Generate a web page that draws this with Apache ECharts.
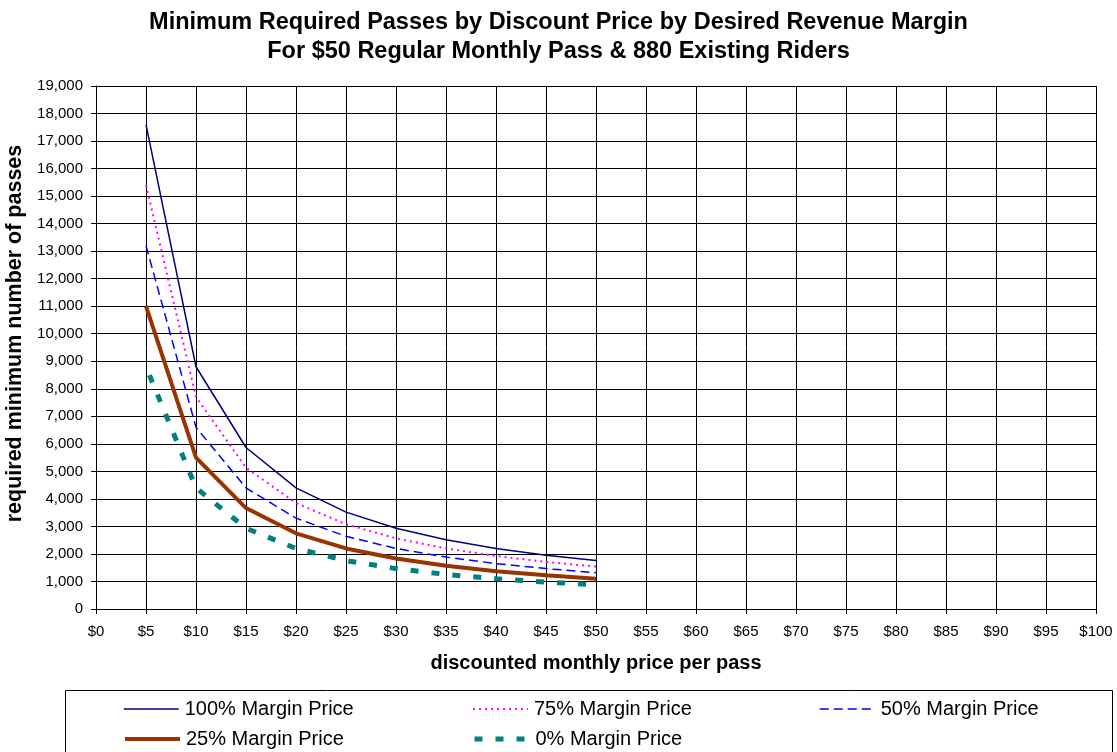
<!DOCTYPE html>
<html>
<head>
<meta charset="utf-8">
<script src="https://cdn.jsdelivr.net/npm/echarts@6/dist/echarts.min.js"></script>
<style>html,body{margin:0;padding:0;background:#fff}#c{width:1117px;height:752px}</style>
</head>
<body>
<div id="c"></div>
<script>
var prices = [5, 10, 15, 20, 25, 30, 35, 40, 45, 50];
var margin100 = [17600, 8800, 5867, 4400, 3520, 2933, 2514, 2200, 1956, 1760];
var margin75 = [15400, 7700, 5133, 3850, 3080, 2567, 2200, 1925, 1711, 1540];
var margin50 = [13200, 6600, 4400, 3300, 2640, 2200, 1886, 1650, 1467, 1320];
var margin25 = [11000, 5500, 3667, 2750, 2200, 1833, 1571, 1375, 1222, 1100];
var margin0 = [8800, 4400, 2933, 2200, 1760, 1467, 1257, 1100, 978, 880];
var seriesNames = ['100% Margin Price', '75% Margin Price', '50% Margin Price', '25% Margin Price', '0% Margin Price'];
var titleLines = ['Minimum Required Passes by Discount Price by Desired Revenue Margin', 'For $50 Regular Monthly Pass & 880 Existing Riders'];

function pts(vals) { return prices.map(function (p, i) { return [p, vals[i]]; }); }
function comma(v) { return String(v).replace(/\B(?=(\d{3})+(?!\d))/g, ','); }

var FONT = 'Liberation Sans, Arial, sans-serif';
var styles = [
  { color: '#000080', width: 1.5, type: 'solid', off: 0 },
  { color: '#FF00FF', width: 2, type: [2, 4], off: 0 },
  { color: '#0000FF', width: 1.5, type: [9, 5], off: 0 },
  { color: '#993300', width: 4, type: 'solid', off: 0 },
  { color: '#008080', width: 5, type: [8, 13], off: 12 }
];
var data = [margin100, margin75, margin50, margin25, margin0];

var series = data.map(function (d, i) {
  return {
    name: seriesNames[i], type: 'line', data: pts(d), symbol: 'none', smooth: false,
    lineStyle: { color: styles[i].color, width: styles[i].width, type: styles[i].type, dashOffset: styles[i].off, cap: 'butt' },
    itemStyle: { color: styles[i].color },
    z: 10 - i
  };
});

var legendPos = [[123, 699], [472, 699], [819, 699], [123, 729], [472, 729]];
var legends = seriesNames.map(function (n, i) {
  return {
    data: [n], left: legendPos[i][0], top: legendPos[i][1], padding: 0,
    itemWidth: 55, itemHeight: 20, itemGap: 0, selectedMode: false,
    itemStyle: { opacity: 0 },
    lineStyle: { width: 'inherit', dashOffset: 0 },
    textStyle: { fontFamily: FONT, fontSize: 20, color: '#000', padding: [0, 0, 0, 1] }
  };
});

var chart = echarts.init(document.getElementById('c'), null, { renderer: 'canvas' });
chart.setOption({
  animation: false,
  backgroundColor: '#fff',
  title: {
    text: titleLines.join('\n'), left: 'center', top: 3,
    textStyle: { fontFamily: FONT, fontSize: 23.5, fontWeight: 'bold', color: '#000', lineHeight: 29 }
  },
  grid: { left: 96, right: 21, top: 86, bottom: 143, containLabel: false, outerBoundsMode: 'none' },
  xAxis: {
    type: 'value', min: 0, max: 100, interval: 5,
    name: 'discounted monthly price per pass', nameLocation: 'middle', nameGap: 44,
    nameTextStyle: { fontFamily: FONT, fontSize: 20, fontWeight: 'bold', color: '#000' },
    axisLine: { show: true, lineStyle: { color: '#000', width: 1 } },
    axisTick: { show: true, length: 5, lineStyle: { color: '#000' } },
    axisLabel: { fontFamily: FONT, fontSize: 15, color: '#000', margin: 15, formatter: function (v) { return '$' + v; } },
    splitLine: { show: true, lineStyle: { color: '#000', width: 1 } }
  },
  yAxis: {
    type: 'value', min: 0, max: 19000, interval: 1000,
    name: 'required minimum number of passes', nameLocation: 'middle', nameGap: 58,
    nameTextStyle: { fontFamily: FONT, fontSize: 21.5, fontWeight: 'bold', color: '#000', padding: [0, 0, 0, 28] },
    axisLine: { show: true, lineStyle: { color: '#000', width: 1 } },
    axisTick: { show: true, length: 5, lineStyle: { color: '#000' } },
    axisLabel: { fontFamily: FONT, fontSize: 15, color: '#000', margin: 13, formatter: comma },
    splitLine: { show: true, lineStyle: { color: '#000', width: 1 } }
  },
  legend: legends,
  graphic: [{
    type: 'rect', shape: { x: 65.5, y: 690.5, width: 1047, height: 80 },
    style: { fill: 'none', stroke: '#000', lineWidth: 1 }, z: -1
  }],
  series: series
});
</script>
</body>
</html>
